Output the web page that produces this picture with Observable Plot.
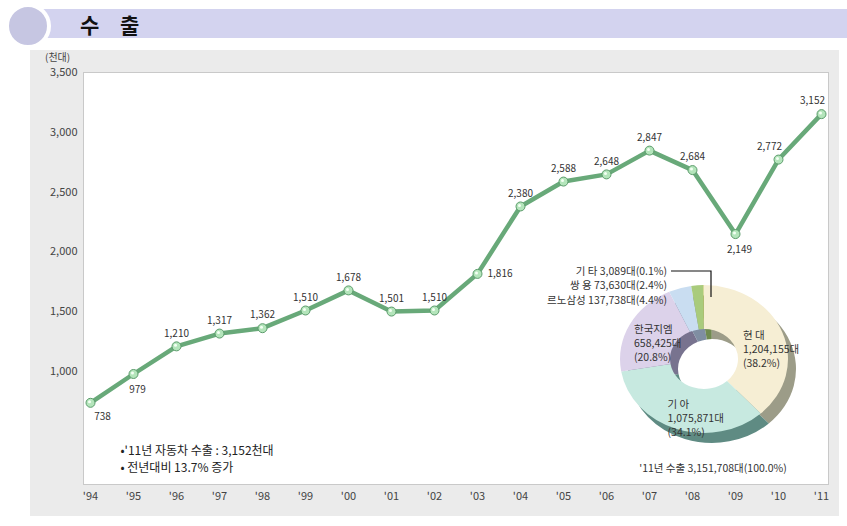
<!DOCTYPE html>
<html>
<head>
<meta charset="utf-8">
<script src="https://cdn.jsdelivr.net/npm/d3@7"></script>
<script src="https://cdn.jsdelivr.net/npm/@observablehq/plot@0.6"></script>
<style>
  body { margin: 0; background: #fff; font-family: "Noto Sans CJK KR", "Noto Sans", sans-serif; }
  #wrap { position: relative; width: 847px; height: 526px; overflow: hidden; background: #fff; }
  .band { position: absolute; left: 40px; top: 9px; width: 807px; height: 29px; background: #d3d3ef; }
  .circle { position: absolute; left: 5px; top: 3px; width: 38px; height: 38px; border-radius: 50%; background: #c6c6e2; border: 4px solid #fff; }
  .title { position: absolute; left: 80px; top: 6px; font-size: 21px; font-weight: 700; color: #111; word-spacing: 16px; line-height: 36px; }
  .panel { position: absolute; left: 30px; top: 50px; width: 809px; height: 466px; background: #ebebeb; }
  .unit { position: absolute; left: 45px; top: 51px; font-size: 10px; line-height: 12px; color: #444; }
  #chart { position: absolute; left: 0; top: 0; }
</style>
</head>
<body>
<div id="wrap">
  <div class="band"></div>
  <div class="circle"></div>
  <div class="title">수 출</div>
  <div class="panel"></div>
  <div class="unit">(천대)</div>
  <div id="chart"></div>
</div>
<script>
// ---- data ----
const years = ["'94","'95","'96","'97","'98","'99","'00","'01","'02","'03","'04","'05","'06","'07","'08","'09","'10","'11"];
const exportsK = [738, 979, 1210, 1317, 1362, 1510, 1678, 1501, 1510, 1816, 2380, 2588, 2648, 2847, 2684, 2149, 2772, 3152];
const yTicks = [1000, 1500, 2000, 2500, 3000, 3500];

const makers = ["현 대", "기 아", "한국지엠", "르노삼성", "쌍 용", "기 타"];
const makerUnits = [1204155, 1075871, 658425, 137738, 73630, 3089];
const makerShares = [38.2, 34.1, 20.8, 4.4, 2.4, 0.1];
const totalUnits = 3151708;
const noteLines = ["•'11년 자동차 수출 : 3,152천대", "• 전년대비 13.7% 증가"];

// ---- styling (not data) ----
const sliceFill = ["#f6eed4", "#c7e9e0", "#dcd2ea", "#c9ddf1", "#a9cb7c", "#d9cf7a"];
const sliceShadow = ["#9c9c88", "#5f8b83", "#78738f", "#7f8ea2", "#6f8a50", "#8a8a6a"];

const data = years.map((y, i) => ({year: y, value: exportsK[i], i}));
const fmt = d3.format(",");

const below = new Set([1, 15]);
const belowRight = new Set([0]);
const right = new Set([9]);
const aboveLeft = new Set([16, 17]);
const above = data.filter(d => !below.has(d.i) && !belowRight.has(d.i) && !right.has(d.i) && !aboveLeft.has(d.i));

function donut(index, scales, values, dims) {
  const g = d3.create("svg:g");
  const cx = dims.width - 143, cy = dims.marginTop + 287;
  const rOut = 84, rIn = 34, sy = 0.88;
  const pie = d3.pie().sort(null).value(d => d)(makerUnits);
  const arc = d3.arc().innerRadius(rIn).outerRadius(rOut);
  g.append("g").attr("transform", `translate(${cx + 8},${cy + 10}) scale(1,${sy})`)
    .selectAll("path").data(pie).join("path")
    .attr("d", arc).attr("fill", (d, i) => sliceShadow[i]);
  g.append("g").attr("transform", `translate(${cx},${cy}) scale(1,${sy})`)
    .selectAll("path").data(pie).join("path")
    .attr("d", arc).attr("fill", (d, i) => sliceFill[i]);
  const lab = d3.arc().innerRadius(60).outerRadius(60);
  const t = g.append("g").attr("font-size", 10.5).attr("fill", "#333")
    .attr("text-anchor", "start")
    .attr("font-family", '"Noto Sans CJK KR", sans-serif');
  pie.slice(0, 3).forEach((p, i) => {
    const [x, y] = lab.centroid(p);
    const px = cx + x - 17, py = cy + y * sy - 5;
    const lines = [makers[i], fmt(makerUnits[i]) + "대", "(" + makerShares[i].toFixed(1) + "%)"];
    lines.forEach((s, k) => t.append("text").attr("x", px).attr("y", py + k * 14)
      .attr("dy", "0.35em").attr("text-anchor", "start").text(s));
  });
  // small slices: labels outside on the left
  [5, 4, 3].forEach((i, k) => {
    t.append("text").attr("x", cx - 37).attr("y", cy - 88 + k * 14.5)
      .attr("dy", "0.35em").attr("text-anchor", "end")
      .text(`${makers[i]} ${fmt(makerUnits[i])}대(${makerShares[i].toFixed(1)}%)`);
  });
  g.append("path")
    .attr("d", `M${cx - 33},${cy - 88}H${cx + 7}V${cy - 62}`)
    .attr("fill", "none").attr("stroke", "#111").attr("stroke-width", 1.2);
  t.append("text").attr("x", cx + 9).attr("y", cy + 109).attr("dy", "0.35em")
    .attr("text-anchor", "middle")
    .text(`'11년 수출 ${fmt(totalUnits)}대(100.0%)`);
  return g.node();
}

const chart = Plot.plot({
  width: 847,
  height: 526,
  marginTop: 72,
  marginRight: 19,
  marginBottom: 42,
  marginLeft: 83,
  style: {background: "transparent", fontSize: "11px", fontFamily: '"Noto Sans CJK KR", sans-serif', color: "#444"},
  x: {type: "point", domain: years, padding: 0, tickSize: 0, tickPadding: 8, label: null},
  y: {domain: [55, 3500], ticks: yTicks, tickFormat: fmt, tickSize: 0, tickPadding: 6, label: null},
  marks: [
    Plot.frame({fill: "white", stroke: "#c9c9c9"}),
    Plot.line(data, {x: "year", y: "value", stroke: "#68a979", strokeWidth: 4.5}),
    Plot.dot(data, {x: "year", y: "value", r: 4.5, fill: "#b4e5bb", stroke: "#5b9b6b", strokeWidth: 1}),
    Plot.dot(data, {x: "year", y: "value", r: 1.5, fill: "#f4fff4", dx: -1, dy: -1}),
    Plot.text(above, {x: "year", y: "value", text: d => fmt(d.value), dy: -13, fontSize: 10, fill: "#333"}),
    Plot.text(data.filter(d => below.has(d.i)), {x: "year", y: "value", text: d => fmt(d.value), dx: 4, dy: 16, fontSize: 10, fill: "#333"}),
    Plot.text(data.filter(d => belowRight.has(d.i)), {x: "year", y: "value", text: d => fmt(d.value), dx: 12, dy: 14, fontSize: 10, fill: "#333"}),
    Plot.text(data.filter(d => right.has(d.i)), {x: "year", y: "value", text: d => fmt(d.value), dx: 10, dy: 0, textAnchor: "start", fontSize: 10, fill: "#333"}),
    Plot.text(data.filter(d => aboveLeft.has(d.i)), {x: "year", y: "value", text: d => fmt(d.value), dx: -9, dy: -13, fontSize: 10, fill: "#333"}),
    Plot.text([noteLines.join("\n")], {frameAnchor: "bottom-left", text: d => d, dx: 37, dy: -13, fontSize: 12, fill: "#222", lineHeight: 1.35, textAnchor: "start"}),
    donut
  ]
});
document.getElementById("chart").appendChild(chart);
</script>
</body>
</html>
